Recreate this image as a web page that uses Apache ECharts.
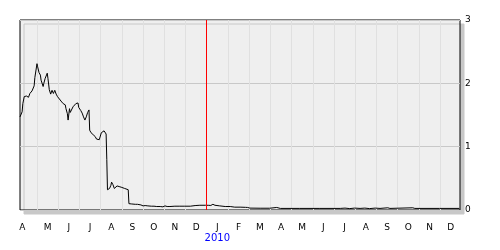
<!DOCTYPE html>
<html>
<head>
<meta charset="utf-8">
<style>html,body{margin:0;padding:0;background:#fff;}#c{width:500px;height:250px;}</style>
<script src="https://cdn.jsdelivr.net/npm/echarts@6/dist/echarts.min.js"></script>
</head>
<body>
<div id="c"></div>
<script>
// ---- data ----
const dates = [
  '2009-04-07','2009-04-09','2009-04-10','2009-04-11','2009-04-13','2009-04-16','2009-04-19','2009-04-20','2009-04-21','2009-04-24','2009-04-26','2009-04-27','2009-04-28',
  '2009-05-01','2009-05-02','2009-05-04','2009-05-06','2009-05-07','2009-05-10','2009-05-11','2009-05-13','2009-05-16','2009-05-17','2009-05-19','2009-05-21','2009-05-23','2009-05-25','2009-05-27','2009-05-29','2009-05-31',
  '2009-06-02','2009-06-05','2009-06-07','2009-06-08','2009-06-11','2009-06-12','2009-06-14','2009-06-15','2009-06-17','2009-06-18','2009-06-20','2009-06-22','2009-06-24','2009-06-26','2009-06-29','2009-06-30',
  '2009-07-03','2009-07-05','2009-07-07','2009-07-09','2009-07-11','2009-07-13','2009-07-15','2009-07-16','2009-07-18','2009-07-20','2009-07-21','2009-07-24','2009-07-26','2009-07-28','2009-07-30','2009-07-31',
  '2009-08-02','2009-08-04','2009-08-06','2009-08-08','2009-08-09','2009-08-10','2009-08-11','2009-08-12','2009-08-14','2009-08-16','2009-08-17','2009-08-19','2009-08-21','2009-08-23','2009-08-25','2009-08-27','2009-08-28','2009-08-31',
  '2009-09-02','2009-09-05','2009-09-07','2009-09-10','2009-09-11','2009-09-13','2009-09-15','2009-09-17','2009-09-20','2009-09-23','2009-09-25','2009-09-28',
  '2009-10-01','2009-10-04','2009-10-08','2009-10-13','2009-10-17','2009-10-21','2009-10-26','2009-10-30',
  '2009-11-02','2009-11-05','2009-11-09','2009-11-16','2009-11-23','2009-11-30',
  '2009-12-08','2009-12-15','2009-12-22','2009-12-30',
  '2010-01-04','2010-01-07','2010-01-10','2010-01-13','2010-01-20','2010-01-28',
  '2010-02-04','2010-02-10','2010-02-17','2010-02-24','2010-02-27',
  '2010-03-02','2010-03-17','2010-03-31',
  '2010-04-10','2010-04-15','2010-05-13','2010-06-11',
  '2010-07-10','2010-07-17','2010-07-24','2010-07-31',
  '2010-08-08','2010-08-15','2010-08-22','2010-08-30',
  '2010-09-06','2010-09-17','2010-09-20','2010-10-23','2010-10-26','2010-11-30','2010-12-29'
];
const prices = [
  1.47,1.45,1.55,1.68,1.79,1.80,1.78,1.80,1.84,1.88,1.91,1.96,2.09,
  2.31,2.26,2.17,2.13,2.05,1.95,2.00,2.08,2.16,2.08,1.90,1.83,1.89,1.84,1.89,1.83,1.79,
  1.76,1.72,1.72,1.68,1.66,1.60,1.52,1.42,1.60,1.54,1.56,1.63,1.66,1.68,1.69,1.62,
  1.57,1.53,1.47,1.42,1.47,1.54,1.58,1.26,1.22,1.24,1.19,1.16,1.12,1.09,1.11,1.08,
  1.22,1.25,1.25,1.23,1.20,0.80,0.32,0.31,0.34,0.39,0.44,0.40,0.34,0.37,0.38,0.35,0.37,0.36,
  0.34,0.34,0.34,0.32,0.10,0.07,0.095,0.10,0.09,0.09,0.085,0.08,
  0.065,0.07,0.065,0.06,0.06,0.055,0.055,0.05,
  0.065,0.055,0.055,0.06,0.06,0.06,
  0.06,0.07,0.075,0.075,
  0.074,0.072,0.09,0.075,0.065,0.055,
  0.055,0.045,0.045,0.042,0.04,
  0.03,0.028,0.028,
  0.04,0.025,0.025,0.025,
  0.025,0.03,0.022,0.03,
  0.025,0.03,0.022,0.03,
  0.025,0.035,0.025,0.035,0.025,0.025,0.025
];
const monthLetters = ['A','M','J','J','A','S','O','N','D','J','F','M','A','M','J','J','A','S','O','N','D'];
const yearLabels = {9: '2010'};
const yTicks = [0, 1, 2, 3];
const rangeStart = '2009-04-07';
const rangeEnd = '2010-12-30';
const markerDate = '2010-01-01';

// ---- scale helper: date -> month position (0 = Apr 2009) ----
function monthPos(s) {
  const p = s.split('-').map(Number);
  const k = (p[0] - 2009) * 12 + (p[1] - 4);
  const dim = new Date(p[0], p[1], 0).getDate();
  return k + (p[2] - 1) / dim;
}
const xMin = monthPos(rangeStart);
const xMax = monthPos(rangeEnd);
const seriesData = dates.map((d, i) => [monthPos(d), prices[i]]);
const gridValues = [];
for (let k = 1; k < monthLetters.length; k++) gridValues.push(k);
const labelValues = monthLetters.map((_, k) => k === 0 ? xMin + 0.11 : k + 0.5);

const chart = echarts.init(document.getElementById('c'), null, {renderer: 'canvas'});
chart.setOption({
  animation: false,
  backgroundColor: '#ffffff',
  grid: {
    left: 20, top: 20, right: 40, bottom: 40,
    show: true,
    backgroundColor: '#efefef',
    borderColor: '#000000',
    borderWidth: 1,
    shadowColor: '#c8c8c8',
    shadowBlur: 0,
    shadowOffsetX: 4,
    shadowOffsetY: 4
  },
  xAxis: {
    type: 'value',
    min: xMin,
    max: xMax,
    axisLine: {show: false},
    axisTick: {show: false, customValues: gridValues},
    splitLine: {show: true, lineStyle: {color: '#e0e0e0', width: 1}},
    axisLabel: {
      customValues: labelValues,
      margin: 12,
      fontFamily: 'DejaVu Sans',
      fontSize: 9,
      color: '#000',
      formatter: function (v) {
        const k = Math.floor(v);
        const letter = monthLetters[k] || '';
        return yearLabels[k] ? '{m|' + letter + '}\n{y|' + yearLabels[k] + '}' : '{m|' + letter + '}';
      },
      rich: {
        m: {fontFamily: 'DejaVu Sans', fontSize: 9, color: '#000', lineHeight: 11},
        y: {fontFamily: 'DejaVu Sans', fontSize: 10, color: '#0000ff', lineHeight: 11}
      }
    }
  },
  yAxis: {
    type: 'value',
    position: 'right',
    min: yTicks[0],
    max: yTicks[yTicks.length - 1],
    interval: 1,
    axisLine: {show: false},
    axisTick: {show: false},
    splitLine: {show: true, lineStyle: {color: '#c8c8c8', width: 1}},
    axisLabel: {
      margin: 5,
      fontFamily: 'DejaVu Sans',
      fontSize: 9,
      color: '#000',
      padding: [3, 0, 0, 0]
    }
  },
  series: [{
    type: 'line',
    data: seriesData,
    showSymbol: false,
    symbol: 'none',
    lineStyle: {color: '#000000', width: 1},
    markLine: {
      silent: true,
      symbol: ['none', 'none'],
      label: {show: false},
      lineStyle: {color: '#ff0000', width: 1, type: 'solid'},
      data: [{xAxis: monthPos(markerDate)}]
    }
  }]
});
</script>
</body>
</html>
